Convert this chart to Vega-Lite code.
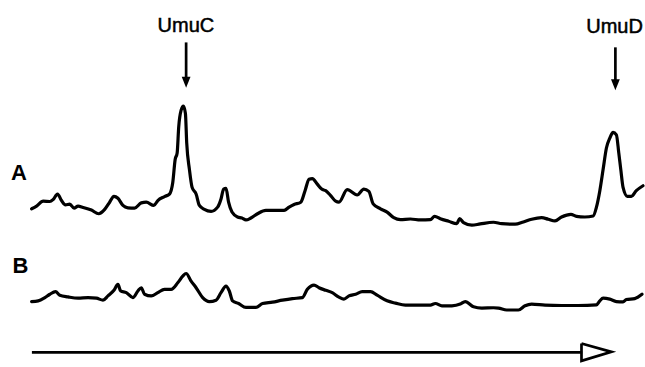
{
  "$schema": "https://vega.github.io/schema/vega-lite/v6.json",
  "width": 645,
  "height": 367,
  "autosize": {"type": "fit", "contains": "padding"},
  "padding": 0,
  "background": "white",
  "config": {"view": {"stroke": null}},
  "datasets": {
    "traces": [
      {"trace":"A","x":31.7,"y":155.3},{"trace":"A","x":36.7,"y":158},{"trace":"A","x":43.3,"y":163},{"trace":"A","x":50,"y":162.7},{"trace":"A","x":53.3,"y":164.7},{"trace":"A","x":57.7,"y":170.3},{"trace":"A","x":61.7,"y":163.7},{"trace":"A","x":65.7,"y":159.3},{"trace":"A","x":70,"y":160},{"trace":"A","x":74.3,"y":156},{"trace":"A","x":78.3,"y":158},{"trace":"A","x":83.3,"y":156.7},{"trace":"A","x":91.7,"y":154},{"trace":"A","x":99,"y":150.3},{"trace":"A","x":105,"y":154.7},{"trace":"A","x":110,"y":162},{"trace":"A","x":114.3,"y":168},{"trace":"A","x":118.3,"y":166},{"trace":"A","x":123.3,"y":158.7},{"trace":"A","x":128.3,"y":156.3},{"trace":"A","x":135,"y":156},{"trace":"A","x":141.7,"y":161.3},{"trace":"A","x":146.7,"y":162},{"trace":"A","x":154.3,"y":158.7},{"trace":"A","x":158.3,"y":163.7},{"trace":"A","x":165,"y":167.7},{"trace":"A","x":170,"y":170.3},{"trace":"A","x":173.3,"y":182},{"trace":"A","x":175.7,"y":205.3},{"trace":"A","x":177.7,"y":212},{"trace":"A","x":179.3,"y":238.7},{"trace":"A","x":181.7,"y":255.3},{"trace":"A","x":184,"y":259.5},{"trace":"A","x":186,"y":252},{"trace":"A","x":187.3,"y":222},{"trace":"A","x":190,"y":195.3},{"trace":"A","x":192.7,"y":177},{"trace":"A","x":196.7,"y":170.3},{"trace":"A","x":200,"y":158.7},{"trace":"A","x":205,"y":154.7},{"trace":"A","x":211.7,"y":152.7},{"trace":"A","x":218.3,"y":157},{"trace":"A","x":221.7,"y":165.3},{"trace":"A","x":224.3,"y":175.3},{"trace":"A","x":226.7,"y":176},{"trace":"A","x":229.3,"y":162},{"trace":"A","x":232.7,"y":152},{"trace":"A","x":238.3,"y":147},{"trace":"A","x":242.7,"y":146},{"trace":"A","x":246.7,"y":144},{"trace":"A","x":251.7,"y":146},{"trace":"A","x":258.3,"y":150.3},{"trace":"A","x":266.7,"y":153.7},{"trace":"A","x":275,"y":153.7},{"trace":"A","x":285,"y":153.7},{"trace":"A","x":290,"y":157},{"trace":"A","x":295,"y":159.7},{"trace":"A","x":301.7,"y":162},{"trace":"A","x":306,"y":173.7},{"trace":"A","x":310,"y":185.3},{"trace":"A","x":313.3,"y":186},{"trace":"A","x":318.3,"y":180.3},{"trace":"A","x":322.7,"y":175.3},{"trace":"A","x":326.7,"y":173.7},{"trace":"A","x":331.7,"y":168.7},{"trace":"A","x":336.7,"y":163},{"trace":"A","x":340,"y":162},{"trace":"A","x":348.3,"y":174.7},{"trace":"A","x":358.3,"y":169.3},{"trace":"A","x":365,"y":175.3},{"trace":"A","x":370,"y":173},{"trace":"A","x":374.3,"y":160.3},{"trace":"A","x":381.7,"y":155.3},{"trace":"A","x":388.3,"y":152},{"trace":"A","x":395,"y":146.3},{"trace":"A","x":401.7,"y":144.3},{"trace":"A","x":411.7,"y":145},{"trace":"A","x":421.7,"y":144},{"trace":"A","x":431.7,"y":144.3},{"trace":"A","x":436,"y":147.7},{"trace":"A","x":441.7,"y":145.3},{"trace":"A","x":450,"y":142.7},{"trace":"A","x":458.3,"y":140.3},{"trace":"A","x":461,"y":145.3},{"trace":"A","x":465,"y":141.3},{"trace":"A","x":473.3,"y":138.7},{"trace":"A","x":481.7,"y":140},{"trace":"A","x":495,"y":141.7},{"trace":"A","x":503.3,"y":140.3},{"trace":"A","x":516.7,"y":139.7},{"trace":"A","x":525,"y":142},{"trace":"A","x":533.3,"y":144.7},{"trace":"A","x":543.3,"y":146.3},{"trace":"A","x":550,"y":144.7},{"trace":"A","x":556.7,"y":143},{"trace":"A","x":563.3,"y":147},{"trace":"A","x":572.7,"y":149.7},{"trace":"A","x":578.3,"y":147.7},{"trace":"A","x":586.7,"y":147},{"trace":"A","x":595,"y":148},{"trace":"A","x":598.3,"y":157},{"trace":"A","x":601.7,"y":173.7},{"trace":"A","x":605,"y":195.3},{"trace":"A","x":608.3,"y":217},{"trace":"A","x":611.7,"y":227},{"trace":"A","x":615,"y":232.7},{"trace":"A","x":618.3,"y":230.3},{"trace":"A","x":620.7,"y":212},{"trace":"A","x":622.7,"y":195.3},{"trace":"A","x":625,"y":177},{"trace":"A","x":629.3,"y":168},{"trace":"A","x":633.3,"y":168},{"trace":"A","x":638.3,"y":173.7},{"trace":"A","x":645,"y":178.7},
      {"trace":"B","x":31.7,"y":61.3},{"trace":"B","x":38.3,"y":62},{"trace":"B","x":45,"y":65.3},{"trace":"B","x":50,"y":68.7},{"trace":"B","x":55.7,"y":71.3},{"trace":"B","x":60,"y":67.7},{"trace":"B","x":68.3,"y":66},{"trace":"B","x":78.3,"y":64.7},{"trace":"B","x":88.3,"y":65.3},{"trace":"B","x":96.7,"y":64.7},{"trace":"B","x":103.3,"y":62.7},{"trace":"B","x":108.3,"y":67},{"trace":"B","x":114.3,"y":72.7},{"trace":"B","x":118.3,"y":78.7},{"trace":"B","x":121,"y":72},{"trace":"B","x":126.7,"y":70.3},{"trace":"B","x":133.3,"y":65.3},{"trace":"B","x":138.3,"y":72},{"trace":"B","x":141.7,"y":75.3},{"trace":"B","x":145,"y":68.7},{"trace":"B","x":151.7,"y":67},{"trace":"B","x":158.3,"y":70.3},{"trace":"B","x":165,"y":73.7},{"trace":"B","x":171.7,"y":73.7},{"trace":"B","x":178.3,"y":80.3},{"trace":"B","x":183.3,"y":87},{"trace":"B","x":186.7,"y":89.7},{"trace":"B","x":191.7,"y":82},{"trace":"B","x":196.7,"y":75.3},{"trace":"B","x":203.3,"y":65.3},{"trace":"B","x":210,"y":61.3},{"trace":"B","x":216.7,"y":62.7},{"trace":"B","x":221.7,"y":70.3},{"trace":"B","x":226.7,"y":77},{"trace":"B","x":230,"y":72},{"trace":"B","x":233.3,"y":62},{"trace":"B","x":239.3,"y":59.3},{"trace":"B","x":246.7,"y":55.3},{"trace":"B","x":256.7,"y":55.3},{"trace":"B","x":263.3,"y":59.3},{"trace":"B","x":273.3,"y":60.7},{"trace":"B","x":283.3,"y":62.7},{"trace":"B","x":293.3,"y":64.3},{"trace":"B","x":303.3,"y":65.3},{"trace":"B","x":308.3,"y":73.7},{"trace":"B","x":315,"y":78},{"trace":"B","x":320,"y":75.3},{"trace":"B","x":326.7,"y":72.7},{"trace":"B","x":333.3,"y":70.3},{"trace":"B","x":340,"y":65.7},{"trace":"B","x":345,"y":63.7},{"trace":"B","x":350,"y":67},{"trace":"B","x":356.7,"y":68.7},{"trace":"B","x":363.3,"y":71.3},{"trace":"B","x":371.7,"y":71.3},{"trace":"B","x":378.3,"y":67.7},{"trace":"B","x":388.3,"y":62},{"trace":"B","x":396.7,"y":59.7},{"trace":"B","x":406.7,"y":57.7},{"trace":"B","x":418.3,"y":57.7},{"trace":"B","x":431.7,"y":57.7},{"trace":"B","x":436.7,"y":59.3},{"trace":"B","x":443.3,"y":57},{"trace":"B","x":453.3,"y":57},{"trace":"B","x":461.7,"y":58.7},{"trace":"B","x":466.7,"y":61.3},{"trace":"B","x":475,"y":56},{"trace":"B","x":483.3,"y":54.7},{"trace":"B","x":495,"y":55},{"trace":"B","x":500,"y":54.7},{"trace":"B","x":508.3,"y":52.7},{"trace":"B","x":520,"y":52.7},{"trace":"B","x":526.7,"y":57},{"trace":"B","x":533.3,"y":58.7},{"trace":"B","x":546.7,"y":57.7},{"trace":"B","x":563.3,"y":57.3},{"trace":"B","x":580,"y":57.3},{"trace":"B","x":598.3,"y":58},{"trace":"B","x":601.7,"y":62},{"trace":"B","x":605,"y":64.7},{"trace":"B","x":611.7,"y":63.7},{"trace":"B","x":618.3,"y":61.3},{"trace":"B","x":625,"y":61},{"trace":"B","x":628.3,"y":63.3},{"trace":"B","x":636.7,"y":64.3},{"trace":"B","x":644,"y":68.7}
    ],
    "axisArrow": [
      {"part":"shaft","o":1,"x":32,"y":9.7},{"part":"shaft","o":2,"x":584,"y":9.7},
      {"part":"head","o":1,"x":583.3,"y":18.7},{"part":"head","o":2,"x":613.3,"y":10.3},{"part":"head","o":3,"x":583.3,"y":1.2},{"part":"head","o":4,"x":583.3,"y":18.7}
    ],
    "pointers": [
      {"label":"UmuC","x":186.7,"y":324,"y2":287,"tx":186.5,"ty":335,"hy":283.5},
      {"label":"UmuD","x":617.3,"y":319,"y2":284,"tx":616.5,"ty":333.7,"hy":281}
    ],
    "laneLabels": [
      {"label":"A","x":11,"y":184.3},
      {"label":"B","x":12.5,"y":90.5}
    ]
  },
  "layer": [
    {
      "data": {"name": "traces"},
      "mark": {"type": "line", "color": "black", "strokeWidth": 3.2, "interpolate": "monotone", "strokeJoin": "round", "strokeCap": "round"},
      "encoding": {
        "x": {"field": "x", "type": "quantitative", "scale": {"domain": [0, 645], "nice": false, "zero": false}, "axis": null},
        "y": {"field": "y", "type": "quantitative", "scale": {"domain": [0, 367], "nice": false, "zero": false}, "axis": null},
        "detail": {"field": "trace"}
      }
    },
    {
      "data": {"name": "axisArrow"},
      "mark": {"type": "line", "color": "black", "strokeWidth": 2.7, "strokeJoin": "miter"},
      "encoding": {
        "x": {"field": "x", "type": "quantitative", "scale": {"domain": [0, 645], "nice": false, "zero": false}, "axis": null},
        "y": {"field": "y", "type": "quantitative", "scale": {"domain": [0, 367], "nice": false, "zero": false}, "axis": null},
        "detail": {"field": "part"},
        "order": {"field": "o"}
      }
    },
    {
      "data": {"name": "pointers"},
      "mark": {"type": "rule", "color": "black", "strokeWidth": 2.7},
      "encoding": {
        "x": {"field": "x", "type": "quantitative", "scale": {"domain": [0, 645], "nice": false, "zero": false}, "axis": null},
        "y": {"field": "y", "type": "quantitative", "scale": {"domain": [0, 367], "nice": false, "zero": false}, "axis": null},
        "y2": {"field": "y2"}
      }
    },
    {
      "data": {"name": "pointers"},
      "mark": {"type": "point", "filled": true, "color": "black", "opacity": 1, "shape": "M-0.8,-1L0.8,-1L0,1Z", "size": 121},
      "encoding": {
        "x": {"field": "x", "type": "quantitative", "scale": {"domain": [0, 645], "nice": false, "zero": false}, "axis": null},
        "y": {"field": "hy", "type": "quantitative", "scale": {"domain": [0, 367], "nice": false, "zero": false}, "axis": null}
      }
    },
    {
      "data": {"name": "pointers"},
      "mark": {"type": "text", "font": "Liberation Sans", "fontSize": 20, "color": "black", "stroke": "black", "strokeWidth": 0.5, "align": "center", "baseline": "alphabetic"},
      "encoding": {
        "x": {"field": "tx", "type": "quantitative", "scale": {"domain": [0, 645], "nice": false, "zero": false}, "axis": null},
        "y": {"field": "ty", "type": "quantitative", "scale": {"domain": [0, 367], "nice": false, "zero": false}, "axis": null},
        "text": {"field": "label"}
      }
    },
    {
      "data": {"name": "laneLabels"},
      "mark": {"type": "text", "font": "Liberation Sans", "fontSize": 22, "fontWeight": "bold", "color": "black", "align": "left", "baseline": "alphabetic"},
      "encoding": {
        "x": {"field": "x", "type": "quantitative", "scale": {"domain": [0, 645], "nice": false, "zero": false}, "axis": null},
        "y": {"field": "y", "type": "quantitative", "scale": {"domain": [0, 367], "nice": false, "zero": false}, "axis": null},
        "text": {"field": "label"}
      }
    }
  ]
}
